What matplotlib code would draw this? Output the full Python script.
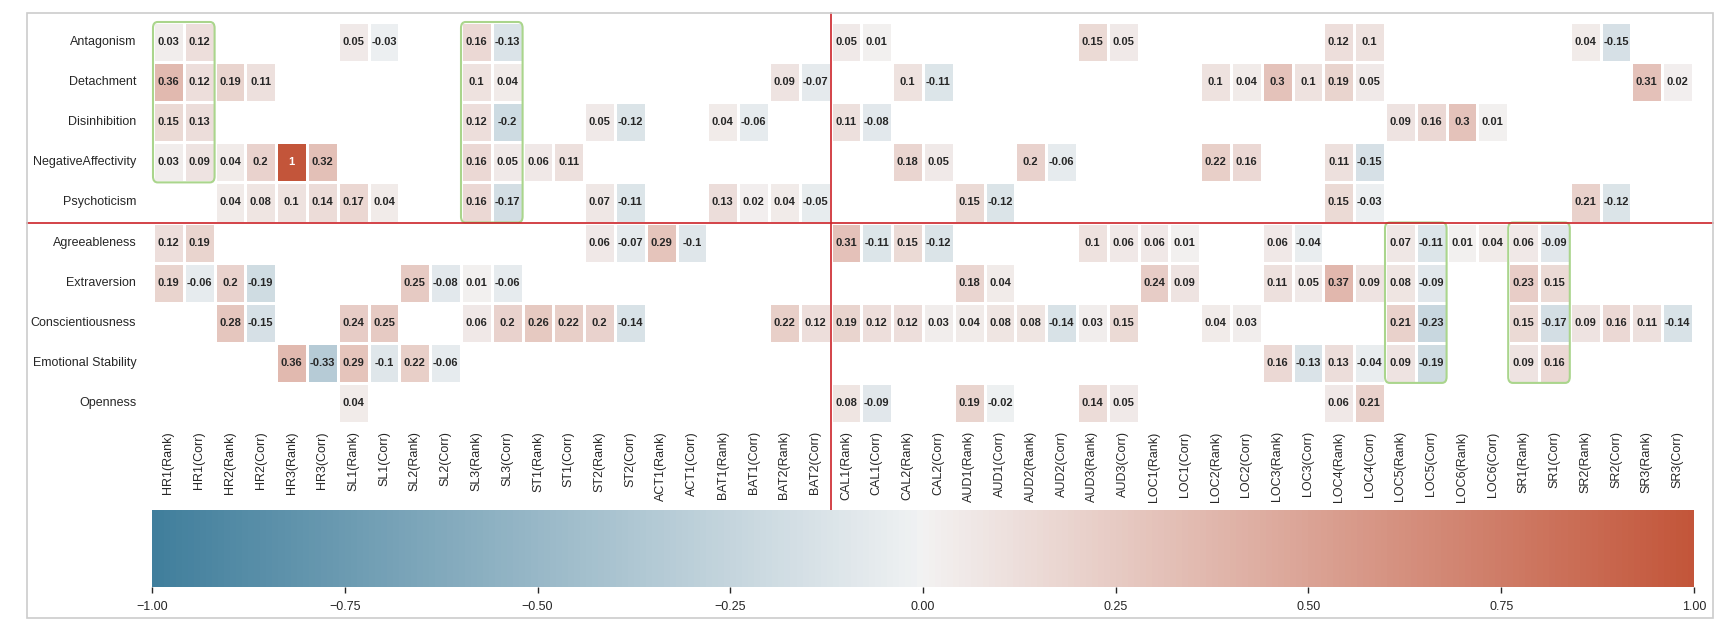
"""Personality traits vs. behavioural measures: rank/corr heatmap with highlights."""

import numpy as np
import pandas as pd
import seaborn as sns
import matplotlib.pyplot as plt
from matplotlib.patches import FancyBboxPatch, Rectangle

MEASURES = ["HR1", "HR2", "HR3", "SL1", "SL2", "SL3", "ST1", "ST2", "ACT1",
            "BAT1", "BAT2", "CAL1", "CAL2", "AUD1", "AUD2", "AUD3", "LOC1",
            "LOC2", "LOC3", "LOC4", "LOC5", "LOC6", "SR1", "SR2", "SR3"]
KINDS = ["Rank", "Corr"]

TRAITS = ["Antagonism", "Detachment", "Disinhibition", "NegativeAffectivity",
          "Psychoticism", "Agreeableness", "Extraversion", "Conscientiousness",
          "Emotional Stability", "Openness"]

# (rank, corr) per measure; missing measures are blank cells
antagonism = {"HR1": (0.03, 0.12), "SL1": (0.05, -0.03), "SL3": (0.16, -0.13),
              "CAL1": (0.05, 0.01), "AUD3": (0.15, 0.05), "LOC4": (0.12, 0.1),
              "SR2": (0.04, -0.15)}
detachment = {"HR1": (0.36, 0.12), "HR2": (0.19, 0.11), "SL3": (0.1, 0.04),
              "BAT2": (0.09, -0.07), "CAL2": (0.1, -0.11), "LOC2": (0.1, 0.04),
              "LOC3": (0.3, 0.1), "LOC4": (0.19, 0.05), "SR3": (0.31, 0.02)}
disinhibition = {"HR1": (0.15, 0.13), "SL3": (0.12, -0.2), "ST2": (0.05, -0.12),
                 "BAT1": (0.04, -0.06), "CAL1": (0.11, -0.08),
                 "LOC5": (0.09, 0.16), "LOC6": (0.3, 0.01)}
negative_affectivity = {"HR1": (0.03, 0.09), "HR2": (0.04, 0.2), "HR3": (1.0, 0.32),
                        "SL3": (0.16, 0.05), "ST1": (0.06, 0.11),
                        "CAL2": (0.18, 0.05), "AUD2": (0.2, -0.06),
                        "LOC2": (0.22, 0.16), "LOC4": (0.11, -0.15)}
psychoticism = {"HR2": (0.04, 0.08), "HR3": (0.1, 0.14), "SL1": (0.17, 0.04),
                "SL3": (0.16, -0.17), "ST2": (0.07, -0.11), "BAT1": (0.13, 0.02),
                "BAT2": (0.04, -0.05), "AUD1": (0.15, -0.12),
                "LOC4": (0.15, -0.03), "SR2": (0.21, -0.12)}
agreeableness = {"HR1": (0.12, 0.19), "ST2": (0.06, -0.07), "ACT1": (0.29, -0.1),
                 "CAL1": (0.31, -0.11), "CAL2": (0.15, -0.12), "AUD3": (0.1, 0.06),
                 "LOC1": (0.06, 0.01), "LOC3": (0.06, -0.04), "LOC5": (0.07, -0.11),
                 "LOC6": (0.01, 0.04), "SR1": (0.06, -0.09)}
extraversion = {"HR1": (0.19, -0.06), "HR2": (0.2, -0.19), "SL2": (0.25, -0.08),
                "SL3": (0.01, -0.06), "AUD1": (0.18, 0.04), "LOC1": (0.24, 0.09),
                "LOC3": (0.11, 0.05), "LOC4": (0.37, 0.09), "LOC5": (0.08, -0.09),
                "SR1": (0.23, 0.15)}
conscientiousness = {"HR2": (0.28, -0.15), "SL1": (0.24, 0.25), "SL3": (0.06, 0.2),
                     "ST1": (0.26, 0.22), "ST2": (0.2, -0.14), "BAT2": (0.22, 0.12),
                     "CAL1": (0.19, 0.12), "CAL2": (0.12, 0.03), "AUD1": (0.04, 0.08),
                     "AUD2": (0.08, -0.14), "AUD3": (0.03, 0.15), "LOC2": (0.04, 0.03),
                     "LOC5": (0.21, -0.23), "SR1": (0.15, -0.17), "SR2": (0.09, 0.16),
                     "SR3": (0.11, -0.14)}
emotional_stability = {"HR3": (0.36, -0.33), "SL1": (0.29, -0.1), "SL2": (0.22, -0.06),
                       "LOC3": (0.16, -0.13), "LOC4": (0.13, -0.04),
                       "LOC5": (0.09, -0.19), "SR1": (0.09, 0.16)}
openness = {"SL1": (0.04, None), "CAL1": (0.08, -0.09), "AUD1": (0.19, -0.02),
            "AUD3": (0.14, 0.05), "LOC4": (0.06, 0.21)}

TRAIT_DATA = [antagonism, detachment, disinhibition, negative_affectivity,
              psychoticism, agreeableness, extraversion, conscientiousness,
              emotional_stability, openness]

# highlighted blocks: (first measure, first trait, last trait)
HIGHLIGHTS = [("HR1", "Antagonism", "NegativeAffectivity"),
              ("SL3", "Antagonism", "Psychoticism"),
              ("LOC5", "Agreeableness", "Emotional Stability"),
              ("SR1", "Agreeableness", "Emotional Stability")]
SPLIT_COLUMN = "CAL1(Rank)"
SPLIT_ROW = "Agreeableness"

plt.rcParams["font.family"] = ["Liberation Sans", "DejaVu Sans"]

W, H = 1724, 624


def build_frame() -> pd.DataFrame:
    columns = [f"{m}({k})" for m in MEASURES for k in KINDS]
    df = pd.DataFrame(np.nan, index=TRAITS, columns=columns)
    for trait, values in zip(TRAITS, TRAIT_DATA):
        for m, pair in values.items():
            for k, v in zip(KINDS, pair):
                if v is not None:
                    df.loc[trait, f"{m}({k})"] = v
    return df


def main() -> None:
    df = build_frame()
    labels = df.map(lambda v: "" if np.isnan(v) else f"{v:g}")

    fig = plt.figure(figsize=(W / 100, H / 100), dpi=100)
    ax = fig.add_axes([153 / W, 1 - 423 / H, 1540 / W, 401 / H])
    cax = fig.add_axes([152 / W, 1 - 587 / H, 1542 / W, 77 / H])

    cmap = sns.diverging_palette(230, 20, as_cmap=True)
    sns.heatmap(df, ax=ax, cmap=cmap, vmin=-1, vmax=1, center=0,
                annot=labels.values, fmt="",
                annot_kws={"size": 8, "weight": "bold"},
                linewidths=1, linecolor="white",
                cbar_ax=cax, cbar_kws={"orientation": "horizontal"})

    ax.tick_params(length=0, labelsize=9, colors="#262626")
    ax.tick_params(axis="y", pad=12)
    ax.tick_params(axis="x", pad=6)
    ax.set_yticklabels(TRAITS, rotation=0)
    ax.set_xticklabels(df.columns, rotation=90)

    ticks = [-1, -0.75, -0.5, -0.25, 0, 0.25, 0.5, 0.75, 1]
    cax.set_xticks(ticks)
    cax.set_xticklabels([f"{t:.2f}".replace("-", "\u2212") for t in ticks])
    cax.tick_params(length=4, width=1, labelsize=9, colors="#262626", pad=6)

    # green rounded boxes around highlighted blocks
    for meas, r0, r1 in HIGHLIGHTS:
        c = df.columns.get_loc(f"{meas}(Rank)")
        y0 = TRAITS.index(r0)
        y1 = TRAITS.index(r1) + 1
        box = FancyBboxPatch((c, y0), 2, y1 - y0,
                             boxstyle="round,pad=0,rounding_size=0.15",
                             fill=False, edgecolor="#aad58c", linewidth=1.5,
                             zorder=5, clip_on=False)
        ax.add_patch(box)

    # red split lines, running out to the outer frame
    col = df.columns.get_loc(SPLIT_COLUMN)
    row = TRAITS.index(SPLIT_ROW)
    ax.axvline(col, ymin=(423 - 510) / 401, ymax=(423 - 13) / 401,
               color="#cc2229", lw=1.2, clip_on=False, zorder=6)
    ax.axhline(row, xmin=(27 - 153) / 1540, xmax=(1713 - 153) / 1540,
               color="#cc2229", lw=1.2, clip_on=False, zorder=6)

    # light grey outer frame
    fig.patches.append(Rectangle((27 / W, 1 - 618 / H), (1713 - 27) / W,
                                 (618 - 13) / H, transform=fig.transFigure,
                                 fill=False, edgecolor="#cccccc", lw=1.2))

    fig.savefig("out.png", dpi=100, facecolor="white")


if __name__ == "__main__":
    main()
